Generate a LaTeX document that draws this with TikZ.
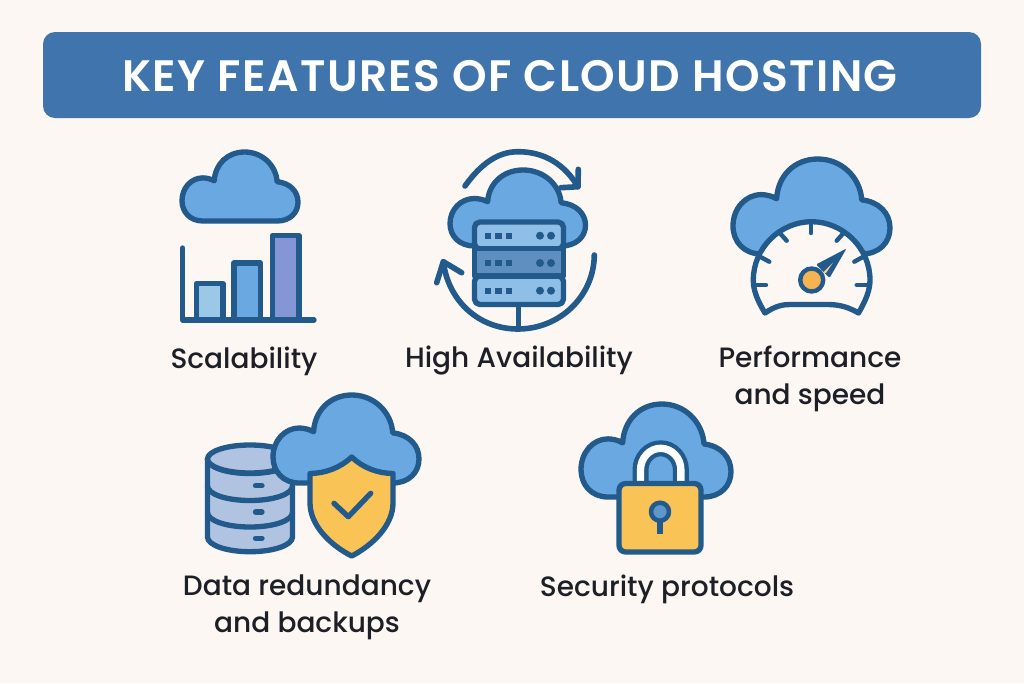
\documentclass[tikz,border=0pt]{standalone}
\usepackage{fontspec}
\setmainfont{Poppins}
\newfontfamily\labelfont{Poppins Medium}
\newfontfamily\titlefont[LetterSpace=3.3]{Poppins SemiBold}
\definecolor{bgc}{HTML}{FCF7F2}
\definecolor{ink}{HTML}{235A8C}
\definecolor{bar}{HTML}{3F74AC}
\definecolor{cloudc}{HTML}{69A8E0}
\definecolor{lightb}{HTML}{9CC8E8}
\definecolor{violetb}{HTML}{8496D6}
\definecolor{rackl}{HTML}{8FBFE6}
\definecolor{rackm}{HTML}{5E8FC0}
\definecolor{cyl}{HTML}{B0C4E2}
\definecolor{gold}{HTML}{F9C455}
\definecolor{hub}{HTML}{F6B352}
\definecolor{text}{HTML}{1C1F26}
\tikzset{
  ln/.style={draw=ink,line width=4pt,line join=round,line cap=round},
  txt/.style={text=text,font=\labelfont\fontsize{21}{27.75}\selectfont,align=center,inner sep=0pt},
}
\newcommand\cloudat[4]{%
  \draw[ln,fill=cloudc,shift={(#1,#2)},xscale=#3,yscale=#4]
  (0.18,1) .. controls (0.07,1) and (0,0.87) .. (0,0.705)
  .. controls (0,0.52) and (0.08,0.375) .. (0.18,0.375)
  .. controls (0.21,0.375) and (0.25,0.39) .. (0.278,0.418)
  .. controls (0.285,0.18) and (0.39,0) .. (0.54,0)
  .. controls (0.69,0) and (0.81,0.19) .. (0.82,0.43)
  .. controls (0.93,0.45) and (1,0.57) .. (1,0.727)
  .. controls (1,0.88) and (0.93,1) .. (0.82,1) -- cycle;}
\begin{document}
\begin{tikzpicture}[x=0.75pt,y=-0.75pt]
\useasboundingbox (0,0) rectangle (1024,683);
\fill[bgc] (0,0) rectangle (1024,683);
% title
\fill[bar,rounded corners=9pt] (43,32) rectangle (981,118);
\node[text=white,inner sep=0pt] (title) at (510,76) {\titlefont\fontsize{33}{38}\selectfont KEY FEATURES OF CLOUD HOSTING};
% scalability
\cloudat{182}{152}{116}{69}
\draw[ln,fill=lightb,line cap=butt] (196.5,320) -- (196.5,283.5) -- (223,283.5) -- (223,320);
\draw[ln,fill=cloudc,line cap=butt] (234,320) -- (234,263) -- (260.5,263) -- (260.5,320);
\draw[ln,fill=violetb,line cap=butt] (272.5,320) -- (272.5,235.5) -- (299,235.5) -- (299,320);
\draw[ln] (182.7,248) -- (182.7,320) -- (314,320);
\node[txt] (scal) at (244,361) {Scalability};
% availability
\draw[ln,line width=4.2pt] (465,186) .. controls (480,165) and (497,151.7) .. (518,151.7) .. controls (545,151.7) and (565,165) .. (578,186.7);
\draw[ln,line width=4.2pt] (578.3,169.3) -- (578,186.7) -- (560.7,187.7);
\draw[ln,line width=4.2pt] (594.3,255) .. controls (594,296) and (560,329) .. (518,329) .. controls (478,329) and (448,300) .. (443.3,261.7);
\draw[ln,line width=4.2pt] (461.7,272.7) -- (443.3,261.7) -- (436.7,282.7);
\cloudat{450}{170}{135.5}{76}
\draw[ln,line cap=butt] (518.3,305) -- (518.3,328);
\draw[ln,fill=rackl,rounded corners=4pt] (474.5,222) rectangle (563.5,249);
\draw[ln,fill=rackl,rounded corners=4pt] (474.5,276) rectangle (563.5,304.5);
\draw[ln,fill=rackm] (474.5,248.3) rectangle (563.5,276);
\foreach \yy in {235.7,263,290.7}{
  \foreach \xx in {487.7,498.3,509}{\fill[ink] (\xx-3.2,\yy-3.2) rectangle (\xx+3.2,\yy+3.2);}
  \foreach \xx in {540,551}{\fill[ink] (\xx,\yy) circle[radius=3pt];}
}
\node[txt] (avail) at (519,361) {High Availability};
% performance
\cloudat{733}{159}{157}{95}
\draw[ln,fill=bgc] (765,313) .. controls (757,300) and (753.3,290) .. (753.3,280) .. controls (753.3,248) and (780,221.7) .. (811.7,221.7) .. controls (843,221.7) and (870,248) .. (870,280) .. controls (870,290) and (866,300) .. (858.5,313) .. controls (845,305) and (835,304.5) .. (825,304.5) -- (790,304.5) .. controls (783,304.5) and (775,306) .. (765,313) -- cycle;
\foreach \ax/\ay/\bx/\by in {811/224/811/233,780/233.3/786.7/240.7,843.3/233.3/836.7/240.7,760/256.7/769.3/261.7,863.3/256.7/854.3/261.7,755/285/766/285,856.7/285/868/285}{
  \draw[ln,line width=3.3pt] (\ax,\ay) -- (\bx,\by);}
\fill[ink,rounded corners=1pt] (816,264.5) -- (846.5,248.5) -- (829.5,278) -- cycle;
\fill[hub!60!bgc] (823,272.5) -- (833,262.5) -- (826,273) -- cycle;
\draw[ln,line width=3.3pt,fill=hub] (811.7,280) circle[radius=11.5];
\node[txt] (perf) at (810,379) {Performance\\and speed};
% data
\draw[ln,fill=cyl] (207.5,459) -- (207.5,537) .. controls (207.5,545) and (226,551.7) .. (250,551.7) .. controls (274,551.7) and (292.5,545) .. (292.5,537) -- (292.5,459) -- cycle;
\foreach \yy in {459,486,512.5}{
  \draw[ln,fill=none] (207.5,\yy) .. controls (207.5,\yy+8) and (226,\yy+14.5) .. (250,\yy+14.5) .. controls (274,\yy+14.5) and (292.5,\yy+8) .. (292.5,\yy);}
\draw[ln,fill=cyl] (250,459) ellipse[x radius=42.5,y radius=14];
\foreach \yy in {485.7,512,538.3}{\draw[ink,line width=4pt,line cap=round] (255.5,\yy) -- (262,\yy);}
\cloudat{273}{395}{146}{88}
\draw[ln,fill=gold] (351.7,457) .. controls (340,468) and (325,473.3) .. (310,473.5) -- (310,503) .. controls (310,525) and (330,545) .. (351.7,556) .. controls (373,545) and (393,525) .. (393,503) -- (393,473.5) .. controls (378,473.3) and (363,468) .. (351.7,457) -- cycle;
\draw[ln] (334,503.3) -- (348.3,516.7) -- (370.7,493.3);
\node[txt] (data) at (307,607) {Data redundancy\\and backups};
% security
\cloudat{581}{404}{150}{93}
\draw[ink,line width=12pt] (640.5,485) -- (640.5,470) arc[start angle=180,end angle=360,x radius=20.2,y radius=21.7] -- (680.9,485);
\draw[white,line width=5.5pt] (640.5,485) -- (640.5,470) arc[start angle=180,end angle=360,x radius=20.2,y radius=21.7] -- (680.9,485);
\draw[ln,fill=gold,rounded corners=5pt] (619,483.5) rectangle (701,552);
\draw[ink,line width=4.2pt] (660,515) -- (660,534);
\draw[ln,line width=3.4pt,fill=rackm!70!cloudc] (660,511.7) circle[radius=9];
\node[txt] (sec) at (667,589) {Security protocols};
\end{tikzpicture}
\end{document}
